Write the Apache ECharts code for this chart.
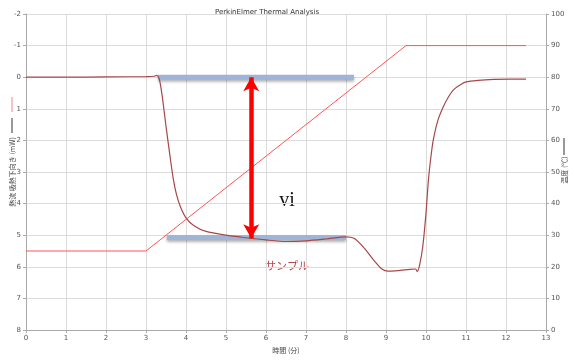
<!DOCTYPE html>
<html><head><meta charset="utf-8">
<script src="https://cdn.jsdelivr.net/npm/echarts@6/dist/echarts.min.js"></script>
<style>html,body{margin:0;padding:0;background:#fff}#c{width:579px;height:360px}</style>
</head><body><div id="c"></div>
<script>
// Heat flow (mW, endotherm down) vs time (min)
const timeMin = [0, 1, 2, 3, 3.2, 3.27, 3.33, 3.4, 3.5, 3.6, 3.68, 3.76, 3.86, 4.0, 4.2, 4.5, 5.0, 5.5, 6.0, 6.5, 7.0, 7.5, 8.0, 8.2, 8.45, 8.7, 8.9, 9.05, 9.3, 9.6, 9.74, 9.78, 9.84, 9.92, 10.0, 10.06, 10.12, 10.18, 10.3, 10.43, 10.55, 10.68, 10.85, 11.0, 11.3, 11.7, 12.1, 12.5];
const heatFlow = [0.0, 0.0, -0.01, -0.02, -0.03, -0.06, 0.05, 0.55, 1.55, 2.5, 3.2, 3.7, 4.1, 4.45, 4.7, 4.88, 5.0, 5.08, 5.15, 5.2, 5.18, 5.12, 5.05, 5.1, 5.4, 5.8, 6.07, 6.14, 6.12, 6.08, 6.07, 6.15, 5.95, 5.35, 4.3, 3.26, 2.55, 2.0, 1.35, 0.94, 0.65, 0.41, 0.25, 0.15, 0.1, 0.07, 0.06, 0.06];
// Temperature (°C) program
const tempTime = [0, 3, 9.5, 12.5];
const tempVal = [25, 25, 90, 90];
// Baseline annotation bands
const band1X = [3.3, 8.2];
const band1Y = [0, 0];
const band2X = [3.52, 8.0];
const band2Y = [5.07, 5.07];
// Double arrow
const arrowX = 5.63;
const arrowY = [0, 5.1];
// Axis ticks
const xTicks = {min: 0, max: 13, interval: 1};
const yLeftTicks = {min: -2, max: 8, interval: 1};
const yRightTicks = {min: 0, max: 100, interval: 10};

const chart = echarts.init(document.getElementById('c'), null, {renderer: 'canvas'});
const labelStyle = {color: '#555', fontSize: 7, fontFamily: 'DejaVu Sans'};
const bandStyle = {width: 5, color: '#9fb5d8', shadowColor: 'rgba(0,0,0,0.3)', shadowBlur: 3, shadowOffsetY: 2};

chart.setOption({
  animation: false,
  backgroundColor: '#fff',
  title: {text: 'PerkinElmer Thermal Analysis', left: 262, top: 4, textAlign: 'center',
    textStyle: {fontSize: 7, fontWeight: 'normal', color: '#333', fontFamily: 'DejaVu Sans'}},
  grid: {left: 26, right: 33, top: 14, bottom: 30},
  xAxis: {type: 'value', min: xTicks.min, max: xTicks.max, interval: xTicks.interval,
    name: '時間 (分)', nameLocation: 'middle', nameGap: 17,
    nameTextStyle: {fontSize: 7, color: '#444', fontFamily: 'Noto Sans CJK JP'},
    axisLine: {onZero: false, lineStyle: {color: '#aaa'}}, axisTick: {show: true, length: 3, lineStyle: {color: '#aaa'}},
    axisLabel: Object.assign({margin: 5}, labelStyle),
    splitLine: {show: true, lineStyle: {color: '#dcdcdc', width: 1}}},
  yAxis: [
    {type: 'value', inverse: true, min: yLeftTicks.min, max: yLeftTicks.max, interval: yLeftTicks.interval,
      axisLine: {show: true, onZero: false, lineStyle: {color: '#aaa'}}, axisTick: {show: true, length: 3, lineStyle: {color: '#aaa'}},
      axisLabel: Object.assign({margin: 5}, labelStyle),
      splitLine: {show: true, lineStyle: {color: '#dcdcdc', width: 1}}},
    {type: 'value', position: 'right', min: yRightTicks.min, max: yRightTicks.max, interval: yRightTicks.interval,
      axisLine: {show: true, onZero: false, lineStyle: {color: '#aaa'}}, axisTick: {show: true, length: 3, lineStyle: {color: '#aaa'}},
      axisLabel: Object.assign({margin: 5}, labelStyle),
      splitLine: {show: false}}
  ],
  series: [
    {type: 'line', yAxisIndex: 1, data: tempTime.map((t, i) => [t, tempVal[i]]), showSymbol: false,
      lineStyle: {color: '#ff5555', width: 1}, z: 3},
    {type: 'line', yAxisIndex: 0, data: band1X.map((t, i) => [t, band1Y[i]]), showSymbol: false,
      lineStyle: bandStyle, z: 2},
    {type: 'line', yAxisIndex: 0, data: band2X.map((t, i) => [t, band2Y[i]]), showSymbol: false,
      lineStyle: bandStyle, z: 2},
    {type: 'line', yAxisIndex: 0, data: timeMin.map((t, i) => [t, heatFlow[i]]), showSymbol: false,
      smooth: 0.25, lineStyle: {color: '#a8474a', width: 1.2}, z: 4},
    {type: 'line', yAxisIndex: 0, data: [], z: 5,
      markLine: {silent: true, symbol: ['arrow', 'arrow'], symbolSize: [12, 14], label: {show: false},
        lineStyle: {color: '#ff0000', width: 4.5, type: 'solid'},
        data: [[{coord: [arrowX, arrowY[0]]}, {coord: [arrowX, arrowY[1]]}]]}}
  ],
  graphic: [
    {type: 'text', x: 287, y: 201, style: {text: 'vi', font: '20px "Liberation Serif"', fill: '#111', align: 'center', verticalAlign: 'middle'}},
    {type: 'text', x: 287, y: 266, style: {text: 'サンプル', font: '11px "Noto Sans CJK JP"', fill: '#b5474a', align: 'center', verticalAlign: 'middle'}},
    {type: 'text', x: 12, y: 172, rotation: Math.PI / 2, style: {text: '熱流 吸熱下向き (mW)', font: '7px "Noto Sans CJK JP"', fill: '#444', align: 'center', verticalAlign: 'middle'}},
    {type: 'line', shape: {x1: 12, y1: 118, x2: 12, y2: 133}, style: {stroke: '#333', lineWidth: 1}},
    {type: 'line', shape: {x1: 12, y1: 97, x2: 12, y2: 112}, style: {stroke: '#e98a8a', lineWidth: 1}},
    {type: 'text', x: 564, y: 170, rotation: Math.PI / 2, style: {text: '温度 (℃)', font: '7px "Noto Sans CJK JP"', fill: '#444', align: 'center', verticalAlign: 'middle'}},
    {type: 'line', shape: {x1: 564, y1: 138, x2: 564, y2: 155}, style: {stroke: '#333', lineWidth: 1}}
  ]
});
</script></body></html>
